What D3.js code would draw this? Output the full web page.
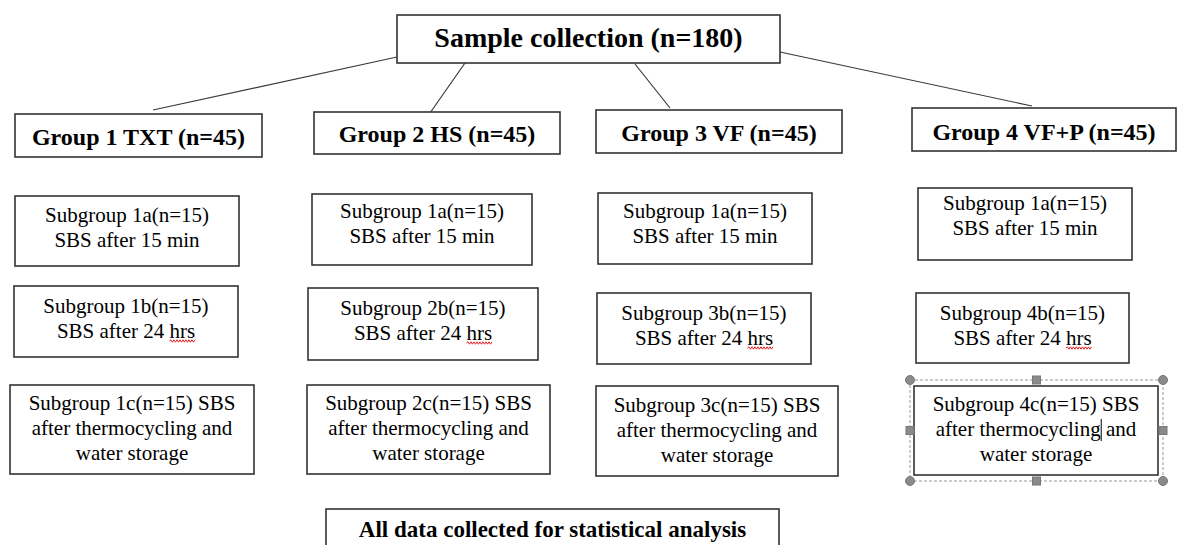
<!DOCTYPE html>
<html><head><meta charset="utf-8">
<script src="https://cdn.jsdelivr.net/npm/d3@7"></script>
<style>html,body{margin:0;padding:0;background:#fff;} svg{display:block;}</style>
</head><body><svg id="c" width="1178" height="545"></svg>
<script>
// ---------- content ----------
const titleText = "Sample collection (n=180)";
const groupLabels = ["Group 1 TXT (n=45)", "Group 2 HS (n=45)", "Group 3 VF (n=45)", "Group 4 VF+P (n=45)"];
const subgroupA = [
  ["Subgroup 1a(n=15)", "SBS after 15 min"],
  ["Subgroup 1a(n=15)", "SBS after 15 min"],
  ["Subgroup 1a(n=15)", "SBS after 15 min"],
  ["Subgroup 1a(n=15)", "SBS after 15 min"]
];
const subgroupB = [
  ["Subgroup 1b(n=15)", "SBS after 24 hrs"],
  ["Subgroup 2b(n=15)", "SBS after 24 hrs"],
  ["Subgroup 3b(n=15)", "SBS after 24 hrs"],
  ["Subgroup 4b(n=15)", "SBS after 24 hrs"]
];
const subgroupC = [
  ["Subgroup 1c(n=15) SBS", "after thermocycling and", "water storage"],
  ["Subgroup 2c(n=15) SBS", "after thermocycling and", "water storage"],
  ["Subgroup 3c(n=15) SBS", "after thermocycling and", "water storage"],
  ["Subgroup 4c(n=15) SBS", "after thermocycling and", "water storage"]
];
const footerText = "All data collected for statistical analysis";
const misspelled = "hrs";

// ---------- layout (geometry only) ----------
const titleBox = {x:397, y:15, w:383, h:48, ty:47};
const groupBoxes = [
  {x:15, y:114, w:247, h:43, ty:145},
  {x:314, y:112, w:246, h:42, ty:142},
  {x:596, y:110, w:246, h:43, ty:141},
  {x:912, y:108, w:264, h:43, ty:140}
];
const aBoxes = [
  {x:15, y:196, w:224, h:70, ty:222},
  {x:312, y:194, w:220, h:71, ty:218},
  {x:598, y:193, w:214, h:71, ty:218},
  {x:918, y:188, w:214, h:72, ty:210}
];
const bBoxes = [
  {x:14, y:286, w:224, h:71, ty:313},
  {x:308, y:288, w:230, h:72, ty:315},
  {x:597, y:293, w:214, h:71, ty:320},
  {x:916, y:293, w:213, h:70, ty:320}
];
const cBoxes = [
  {x:10, y:385, w:244, h:89, ty:410},
  {x:307, y:385, w:243, h:89, ty:410},
  {x:596, y:386, w:242, h:90, ty:412},
  {x:914, y:386, w:244, h:89, ty:411}
];
const footerBox = {x:326, y:509, w:453, h:50, ty:537};
const connectors = [
  [397, 57, 153, 110],
  [465, 63, 430, 113],
  [635, 64, 670, 108],
  [780, 52, 1032, 106]
];
const lineGap = 25;
const FONT = "'Liberation Serif','Times New Roman',serif";

const svg = d3.select("#c");

// connectors
svg.append("g").selectAll("line").data(connectors).join("line")
  .attr("x1", d => d[0]).attr("y1", d => d[1])
  .attr("x2", d => d[2]).attr("y2", d => d[3])
  .attr("stroke", "#3a3a3a").attr("stroke-width", 1.2);

function drawBoxes(cls, boxes, texts, size, weight) {
  const items = boxes.map((b, i) => ({b, lines: texts[i]}));
  const g = svg.append("g").attr("class", cls).selectAll("g").data(items).join("g");
  g.append("rect")
    .attr("x", d => d.b.x).attr("y", d => d.b.y)
    .attr("width", d => d.b.w).attr("height", d => d.b.h)
    .attr("fill", "#fff").attr("stroke", "#333").attr("stroke-width", 1.6);
  g.each(function(d) {
    d3.select(this).selectAll("text").data(d.lines).join("text")
      .attr("x", d.b.x + d.b.w / 2)
      .attr("y", (t, j) => d.b.ty + j * lineGap)
      .attr("text-anchor", "middle")
      .style("font-family", FONT)
      .style("font-size", size + "px")
      .style("font-weight", weight)
      .attr("fill", "#000")
      .text(t => t);
  });
  return g;
}

drawBoxes("title", [titleBox], [[titleText]], 28, "bold");
drawBoxes("groups", groupBoxes, groupLabels.map(s => [s]), 24, "bold");
drawBoxes("suba", aBoxes, subgroupA, 21, "normal");
const gb = drawBoxes("subb", bBoxes, subgroupB, 21, "normal");
const gc = drawBoxes("subc", cBoxes, subgroupC, 21, "normal");
drawBoxes("footer", [footerBox], [[footerText]], 23, "bold");

// red spell-check squiggles under "hrs"
gb.each(function() {
  const t = d3.select(this).selectAll("text").nodes()[1];
  const s = t.textContent, k = s.indexOf(misspelled);
  if (k < 0) return;
  const x0 = t.getStartPositionOfChar(k).x;
  const x1 = t.getEndPositionOfChar(k + misspelled.length - 1).x;
  const y = +t.getAttribute("y") + 3;
  let p = `M${x0},${y}`;
  let up = true;
  for (let x = x0 + 1.5; x <= x1; x += 1.5) { p += `L${x},${y + (up ? -1.2 : 1.2)}`; up = !up; }
  d3.select(this).append("path").attr("d", p).attr("fill", "none")
    .attr("stroke", "#e02020").attr("stroke-width", 1);
});

// text cursor and selection handles on last c box
const lastC = gc.nodes()[3];
{
  const t = d3.select(lastC).selectAll("text").nodes()[1];
  const s = t.textContent, k = s.indexOf("thermocycling") + "thermocycling".length - 1;
  const x = t.getEndPositionOfChar(k).x + 0.5;
  const y = +t.getAttribute("y");
  d3.select(lastC).append("line").attr("x1", x).attr("x2", x)
    .attr("y1", y - 17).attr("y2", y + 5).attr("stroke", "#000").attr("stroke-width", 1);
}
const sel = {x:910, y:380, w:253, h:101};
const sg = svg.append("g");
sg.append("rect").attr("x", sel.x).attr("y", sel.y).attr("width", sel.w).attr("height", sel.h)
  .attr("fill", "none").attr("stroke", "#9a9a9a").attr("stroke-width", 1).attr("stroke-dasharray", "3,2");
const corners = [[0,0],[1,0],[0,1],[1,1]];
const mids = [[0.5,0],[0.5,1],[0,0.5],[1,0.5]];
sg.selectAll("circle").data(corners).join("circle")
  .attr("cx", d => sel.x + d[0] * sel.w).attr("cy", d => sel.y + d[1] * sel.h)
  .attr("r", 4.5).attr("fill", "#8a8a8a").attr("stroke", "#777");
sg.selectAll("rect.h").data(mids).join("rect").attr("class", "h")
  .attr("x", d => sel.x + d[0] * sel.w - 4).attr("y", d => sel.y + d[1] * sel.h - 4)
  .attr("width", 8).attr("height", 8).attr("fill", "#8a8a8a").attr("stroke", "#777");
</script>
</body></html>
